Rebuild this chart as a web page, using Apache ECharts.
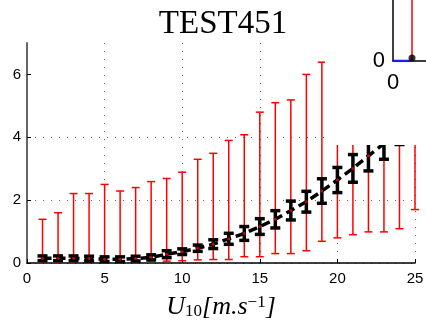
<!DOCTYPE html>
<html>
<head>
<meta charset="utf-8">
<script src="https://cdn.jsdelivr.net/npm/echarts@6/dist/echarts.min.js"></script>
<style>
  html, body { margin: 0; padding: 0; background: #fff; }
  #chart { width: 426px; height: 324px; }
</style>
</head>
<body>
<div id="chart"></div>
<script>
// wind speed bins (m/s)
const windSpeed = [1, 2, 3, 4, 5, 6, 7, 8, 9, 10, 11, 12, 13, 14, 15, 16, 17, 18, 19, 20, 21, 22, 23, 24, 25];
// mean per bin (black dashed) and its error half-width
const meanValue = [0.15, 0.15, 0.15, 0.14, 0.12, 0.12, 0.14, 0.18, 0.28, 0.36, 0.47, 0.6, 0.77, 0.94, 1.16, 1.39, 1.67, 1.95, 2.29, 2.64, 3.01, 3.41, 3.8, 4.3, 4.75];
const meanError = [0.075, 0.075, 0.075, 0.075, 0.075, 0.075, 0.075, 0.08, 0.11, 0.09, 0.1, 0.14, 0.175, 0.22, 0.25, 0.275, 0.3, 0.33, 0.39, 0.4, 0.44, 0.48, 0.5, 0.53, 0.56];
// spread per bin (red bars)
const spreadLow = [0.05, 0.05, 0.05, 0.05, 0.05, 0.05, 0.05, 0.06, 0.06, 0.07, 0.1, 0.11, 0.11, 0.2, 0.2, 0.3, 0.3, 0.39, 0.69, 0.8, 0.9, 0.99, 0.99, 1.09, 1.7];
const spreadHigh = [1.39, 1.6, 2.21, 2.21, 2.5, 2.29, 2.4, 2.59, 2.69, 2.89, 3.3, 3.49, 3.9, 4.08, 4.8, 5.1, 5.19, 6.0, 6.39, 6.5, 6.6, 6.7, 6.8, 6.9, 7.0];
const yTicks = [0, 2, 4, 6];

// inset
const insetBlueX = [0, 1];
const insetBlueY = [0, 0];
const insetRedX = 1;
const insetRedRange = [0, 10];
const insetDot = [1, 0.3];

const chart = echarts.init(document.getElementById('chart'));

const errorBar = (color, width, cap) => (params, api) => {
  const x = api.value(0);
  const top = api.coord([x, api.value(2)]);
  const bot = api.coord([x, api.value(1)]);
  const st = { stroke: color, lineWidth: width };
  return {
    type: 'group',
    children: [
      { type: 'line', shape: { x1: top[0], y1: top[1], x2: bot[0], y2: bot[1] }, style: st },
      { type: 'line', shape: { x1: top[0] - cap, y1: top[1], x2: top[0] + cap, y2: top[1] }, style: st },
      { type: 'line', shape: { x1: bot[0] - cap, y1: bot[1], x2: bot[0] + cap, y2: bot[1] }, style: st },
    ],
  };
};

const tickFont = { color: '#000', fontSize: 15, fontFamily: 'Liberation Sans, Arial, sans-serif' };
const dotted = { color: '#666', width: 1, type: [1, 7] };

const option = {
  animation: false,
  title: {
    text: 'TEST451',
    left: 218,
    textAlign: 'center',
    top: 3,
    textStyle: { fontFamily: 'Liberation Serif, DejaVu Serif, serif', fontSize: 33, fontWeight: 'normal', color: '#000' },
  },
  grid: [
    { left: 27, right: 11, top: 43, bottom: 61, outerBoundsMode: 'none' },
    { left: 393, top: -40, width: 95, height: 101, outerBoundsMode: 'none' },
  ],
  graphic: {
    elements: [
      { type: 'rect', shape: { x: 325, y: 0, width: 101, height: 145 }, style: { fill: '#fff' }, z: 50 },
    ],
  },
  xAxis: [
    {
      type: 'value', gridIndex: 0, min: 0, max: 25, interval: 5,
      axisLine: { lineStyle: { color: '#000', width: 1.5 } },
      axisTick: { inside: true, length: 4, lineStyle: { color: '#000' } },
      axisLabel: { ...tickFont, margin: 8 },
      splitLine: { show: true, lineStyle: dotted },
      name: '{i|U}{s|10}{i|[m.s}{p|−1}{i|]}',
      nameLocation: 'middle',
      nameGap: 31,
      nameTextStyle: {
        rich: {
          i: { fontFamily: 'Liberation Serif, serif', fontStyle: 'italic', fontSize: 26, color: '#000' },
          s: { fontFamily: 'Liberation Serif, serif', fontSize: 17, color: '#000', verticalAlign: 'bottom' },
          p: { fontFamily: 'Liberation Serif, serif', fontSize: 17, color: '#000', verticalAlign: 'top' },
        },
      },
    },
    {
      type: 'value', gridIndex: 1, min: 0, max: 5, z: 60,
      axisLine: { lineStyle: { color: '#000', width: 1.5 } },
      axisTick: { show: false },
      axisLabel: { ...tickFont, fontSize: 22, margin: 11, customValues: [0] },
      splitLine: { show: false },
    },
  ],
  yAxis: [
    {
      type: 'value', gridIndex: 0, min: 0, max: 7, interval: 2,
      axisLine: { show: true, lineStyle: { color: '#666', width: 2 } },
      axisTick: { show: true, inside: true, length: 4, customValues: yTicks, lineStyle: { color: '#000' } },
      axisLabel: { ...tickFont, margin: 6, customValues: yTicks },
      splitLine: { show: true, showMaxLine: false, lineStyle: dotted },
    },
    {
      type: 'value', gridIndex: 1, min: 0, max: 10, z: 60,
      axisLine: { show: true, lineStyle: { color: '#000', width: 1.5 } },
      axisTick: { show: false },
      axisLabel: { ...tickFont, fontSize: 22, margin: 8, customValues: [0] },
      splitLine: { show: false },
    },
  ],
  series: [
    {
      type: 'custom', xAxisIndex: 0, yAxisIndex: 0, z: 2,
      renderItem: errorBar('#ff0000', 1.5, 4),
      data: windSpeed.map((x, i) => [x, spreadLow[i], spreadHigh[i]]),
    },
    {
      type: 'line', xAxisIndex: 0, yAxisIndex: 0, z: 3,
      symbol: 'none',
      lineStyle: { color: '#000', width: 3.5, type: [9, 5] },
      data: windSpeed.map((x, i) => [x, meanValue[i]]),
    },
    {
      type: 'custom', xAxisIndex: 0, yAxisIndex: 0, z: 4,
      renderItem: errorBar('#000', 3.5, 5),
      data: windSpeed.map((x, i) => [x, meanValue[i] - meanError[i], meanValue[i] + meanError[i]]),
    },
    {
      type: 'scatter', xAxisIndex: 0, yAxisIndex: 0, z: 5,
      symbolSize: 3,
      itemStyle: { color: '#ff0000' },
      data: windSpeed.map((x, i) => [x, meanValue[i]]),
    },
    {
      type: 'line', xAxisIndex: 1, yAxisIndex: 1, z: 61,
      symbol: 'none',
      lineStyle: { color: '#1a1aff', width: 2.5 },
      data: insetBlueX.map((x, i) => [x, insetBlueY[i]]),
    },
    {
      type: 'line', xAxisIndex: 1, yAxisIndex: 1, z: 62,
      symbol: 'none',
      lineStyle: { color: '#ff0000', width: 1.5 },
      data: insetRedRange.map((y) => [insetRedX, y]),
    },
    {
      type: 'scatter', xAxisIndex: 1, yAxisIndex: 1, z: 63,
      symbolSize: 7,
      itemStyle: { color: '#000' },
      data: [insetDot],
    },
  ],
};

chart.setOption(option);
</script>
</body>
</html>
